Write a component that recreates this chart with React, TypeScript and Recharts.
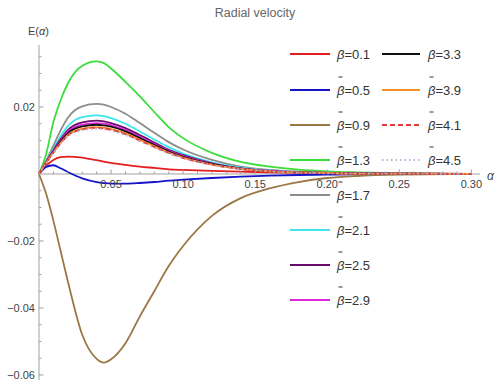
import React from 'react';
import { LineChart, Line, XAxis, YAxis, ReferenceLine, ReferenceDot } from 'recharts';

const xs = [0, 0.005, 0.01, 0.015, 0.02, 0.03, 0.04, 0.045, 0.05, 0.06, 0.07, 0.08, 0.09, 0.10, 0.12, 0.14, 0.16, 0.18, 0.20, 0.22, 0.25, 0.30];

const b01 = [0, 0.0025, 0.0042, 0.005, 0.0052, 0.0049, 0.0041, 0.0037, 0.0033, 0.0027, 0.0022, 0.0018, 0.0014, 0.0012, 0.0009, 0.0007, 0.0005, 0.0004, 0.0003, 0.0002, 0.0001, 0];
const b05 = [0, 0.0021, 0.0026, 0.0017, 0.0006, -0.0013, -0.0024, -0.0027, -0.0029, -0.0029, -0.0027, -0.0024, -0.002, -0.0017, -0.0012, -0.0008, -0.0005, -0.0003, -0.0002, -0.0001, 0, 0];
const b09 = [0, -0.006, -0.014, -0.023, -0.032, -0.048, -0.0552, -0.0563, -0.0553, -0.0505, -0.0425, -0.035, -0.0275, -0.0215, -0.0125, -0.0072, -0.0043, -0.0024, -0.0012, -0.0006, -0.0002, 0];
const b13 = [0, 0.006, 0.0155, 0.022, 0.027, 0.0323, 0.0336, 0.0331, 0.0315, 0.0275, 0.0232, 0.0185, 0.014, 0.0107, 0.0063, 0.0036, 0.0022, 0.0013, 0.0008, 0.0005, 0.0002, 0];
const b17 = [0, 0.004, 0.0085, 0.013, 0.0168, 0.0202, 0.0209, 0.0207, 0.02, 0.018, 0.0152, 0.0123, 0.0095, 0.0073, 0.0042, 0.0022, 0.0012, 0.0007, 0.0004, 0.0002, 0.0001, 0];
const b21 = [0, 0.0037, 0.0076, 0.0113, 0.0143, 0.017, 0.0175, 0.0173, 0.0167, 0.015, 0.0127, 0.0103, 0.008, 0.0061, 0.0035, 0.0019, 0.001, 0.0006, 0.0003, 0.0002, 0.0001, 0];
const b25 = [0, 0.0036, 0.0071, 0.0104, 0.0131, 0.0154, 0.0159, 0.0157, 0.0152, 0.0137, 0.0116, 0.0094, 0.0072, 0.0056, 0.0032, 0.0017, 0.0009, 0.0005, 0.0003, 0.0002, 0.0001, 0];
const b29 = [0, 0.0035, 0.0069, 0.01, 0.0126, 0.0147, 0.0152, 0.015, 0.0146, 0.0131, 0.0111, 0.009, 0.0069, 0.0053, 0.0031, 0.0016, 0.0009, 0.0005, 0.0003, 0.0001, 0.0001, 0];
const b33 = [0, 0.0035, 0.0067, 0.0097, 0.0122, 0.0142, 0.0147, 0.0145, 0.0141, 0.0127, 0.0107, 0.0087, 0.0067, 0.0051, 0.003, 0.0016, 0.0008, 0.0005, 0.0003, 0.0001, 0.0001, 0];
const b39 = [0, 0.0034, 0.0065, 0.0093, 0.0116, 0.0135, 0.014, 0.0138, 0.0134, 0.0121, 0.0102, 0.0083, 0.0064, 0.0049, 0.0028, 0.0015, 0.0008, 0.0005, 0.0003, 0.0001, 0.0001, 0];
const b41 = [0, 0.0034, 0.0064, 0.0092, 0.0115, 0.0133, 0.0138, 0.0136, 0.0132, 0.0119, 0.01, 0.0081, 0.0063, 0.0048, 0.0028, 0.0015, 0.0008, 0.0004, 0.0002, 0.0001, 0.0001, 0];
const b45 = [0, 0.0033, 0.0063, 0.009, 0.0112, 0.013, 0.0135, 0.0133, 0.0129, 0.0116, 0.0098, 0.0079, 0.0061, 0.0047, 0.0027, 0.0015, 0.0008, 0.0004, 0.0002, 0.0001, 0.0001, 0];

const seriesKeys = ['b01', 'b05', 'b09', 'b13', 'b17', 'b21', 'b25', 'b29', 'b33', 'b39', 'b41', 'b45'];
const seriesValues = [b01, b05, b09, b13, b17, b21, b25, b29, b33, b39, b41, b45];
const seriesLabels = ['0.1', '0.5', '0.9', '1.3', '1.7', '2.1', '2.5', '2.9', '3.3', '3.9', '4.1', '4.5'];
const seriesBar = [false, true, true, true, true, true, true, true, false, true, true, true];
const seriesColors = ['#e41e1e', '#1414c8', '#9a7745', '#3cdc3c', '#8c8c8c', '#3ce6ea', '#6a0a6a', '#e028e0', '#111111', '#f3901e', '#e23a3a', '#b7b0d8'];
const seriesDash = ['', '', '', '', '', '', '', '', '', '', '5 3', '1.5 3'];

const xMajorTicks = [0.05, 0.1, 0.15, 0.2, 0.25, 0.3];
const xMajorLabels = ['0.05', '0.10', '0.15', '0.20', '0.25', '0.30'];
const xMinorTicks = [0.01, 0.02, 0.03, 0.04, 0.06, 0.07, 0.08, 0.09, 0.11, 0.12, 0.13, 0.14, 0.16, 0.17, 0.18, 0.19, 0.21, 0.22, 0.23, 0.24, 0.26, 0.27, 0.28, 0.29];
const yMajorTicks = [-0.06, -0.04, -0.02, 0.02];
const yMajorLabels = ['\u22120.06', '\u22120.04', '\u22120.02', '0.02'];
const yMinorTicks = [-0.055, -0.05, -0.045, -0.035, -0.03, -0.025, -0.015, -0.01, -0.005, 0.005, 0.01, 0.015, 0.025, 0.03, 0.035];

const data = xs.map((x, i) => {
  const row: Record<string, number> = { x };
  seriesKeys.forEach((k, j) => { row[k] = seriesValues[j][i]; });
  return row;
});

const FONT = '"Liberation Sans", Arial, sans-serif';
const AXIS = '#a0a0a0';
const TXT = '#444';

export default function App() {
  const legendRowsY = [54, 90, 125, 160, 195, 230, 265, 300];
  const legendItems = seriesKeys.map((k, i) => {
    const col = i < 8 ? 0 : 1;
    const row = i < 8 ? i : i - 8;
    return { i, col, y: legendRowsY[row] };
  });
  return (
    <div style={{ position: 'absolute', left: 0, top: 0, width: 496, height: 385, background: '#fff', fontFamily: FONT }}>
      <LineChart width={496} height={385} data={data} margin={{ top: 45, right: 16, bottom: 5, left: 39 }}>
        <XAxis dataKey="x" type="number" domain={[0, 0.306]} hide />
        <YAxis type="number" domain={[-0.0615, 0.0385]} hide />
        <ReferenceLine y={0} stroke={AXIS} strokeWidth={1} />
        <ReferenceLine x={0} stroke={AXIS} strokeWidth={1} />
        {xMinorTicks.map((t) => (
          <ReferenceDot key={'xm' + t} x={t} y={0} r={0}
            shape={(p: any) => <line x1={p.cx} x2={p.cx} y1={p.cy} y2={p.cy - 2.5} stroke={AXIS} strokeWidth={1} />} />
        ))}
        {xMajorTicks.map((t, i) => (
          <ReferenceDot key={'xM' + t} x={t} y={0} r={0}
            shape={(p: any) => (
              <g>
                <line x1={p.cx} x2={p.cx} y1={p.cy} y2={p.cy - 4.5} stroke={AXIS} strokeWidth={1} />
                <text x={p.cx} y={p.cy + 14} textAnchor="middle" fontSize={11} fill={TXT} fontFamily={FONT}>{xMajorLabels[i]}</text>
              </g>
            )} />
        ))}
        {yMinorTicks.map((t) => (
          <ReferenceDot key={'ym' + t} x={0} y={t} r={0}
            shape={(p: any) => <line x1={p.cx} x2={p.cx + 2.5} y1={p.cy} y2={p.cy} stroke={AXIS} strokeWidth={1} />} />
        ))}
        {yMajorTicks.map((t, i) => (
          <ReferenceDot key={'yM' + t} x={0} y={t} r={0}
            shape={(p: any) => (
              <g>
                <line x1={p.cx} x2={p.cx + 4.5} y1={p.cy} y2={p.cy} stroke={AXIS} strokeWidth={1} />
                <text x={p.cx - 4} y={p.cy + 4} textAnchor="end" fontSize={11} fill={TXT} fontFamily={FONT}>{yMajorLabels[i]}</text>
              </g>
            )} />
        ))}
        {seriesKeys.map((k, i) => (
          <Line key={k} dataKey={k} type="monotone" stroke={seriesColors[i]} strokeWidth={1.8}
            strokeDasharray={seriesDash[i] || undefined} dot={false} activeDot={false} isAnimationActive={false} />
        ))}
      </LineChart>
      <svg width={496} height={385} style={{ position: 'absolute', left: 0, top: 0, pointerEvents: 'none' }}>
        <text x={255} y={17} textAnchor="middle" fontSize={12.5} fill="#666" fontFamily={FONT}>Radial velocity</text>
        <text x={28} y={35} fontSize={11} fill={TXT} fontFamily={FONT}>E(<tspan fontStyle="italic">α</tspan>)</text>
        <text x={487} y={180} fontSize={12} fill={TXT} fontFamily={FONT} fontStyle="italic">α</text>
        {legendItems.map(({ i, col, y }) => {
          const lx1 = col === 0 ? 290 : 382;
          const lx2 = col === 0 ? 330 : 420;
          const tx = col === 0 ? 337 : 428;
          return (
            <g key={'lg' + i}>
              <line x1={lx1} x2={lx2} y1={y} y2={y} stroke={seriesColors[i]} strokeWidth={2}
                strokeDasharray={seriesDash[i] || undefined} />
              {seriesBar[i] && <line x1={tx + 1.5} x2={tx + 5.5} y1={y - 13} y2={y - 13} stroke="#333" strokeWidth={1} />}
              <text x={tx} y={y + 5} fontSize={13} fill="#333" fontFamily={FONT}>
                <tspan fontStyle="italic">β</tspan>={seriesLabels[i]}
              </text>
            </g>
          );
        })}
      </svg>
    </div>
  );
}
